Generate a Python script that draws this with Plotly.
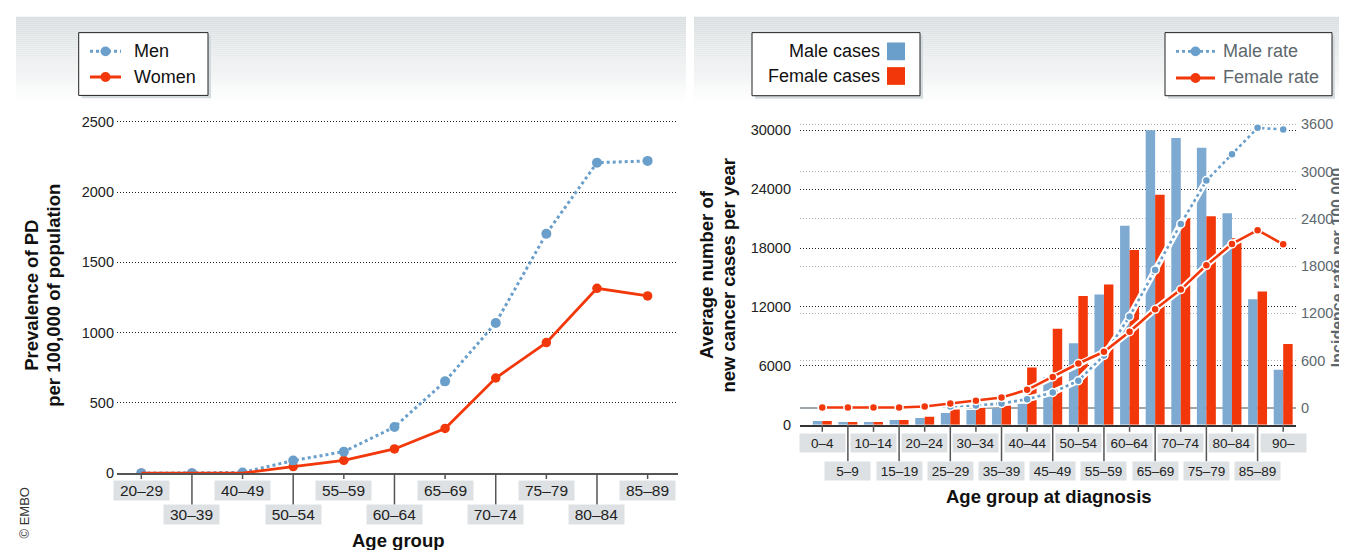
import plotly.graph_objects as go

# ---------------- data ----------------
left_categories = ["20–29", "30–39", "40–49", "50–54", "55–59", "60–64",
                   "65–69", "70–74", "75–79", "80–84", "85–89"]
men_prevalence = [0, 0, 5, 89, 153, 328, 653, 1069, 1704, 2209, 2222]
women_prevalence = [0, 0, 0, 47, 91, 172, 318, 677, 929, 1315, 1261]
left_yticks = [0, 500, 1000, 1500, 2000, 2500]

right_categories = ["0–4", "5–9", "10–14", "15–19", "20–24", "25–29", "30–34",
                    "35–39", "40–44", "45–49", "50–54", "55–59", "60–64",
                    "65–69", "70–74", "75–79", "80–84", "85–89", "90–"]
male_cases = [400, 300, 300, 500, 700, 1200, 1500, 1700, 2140, 4850, 8310,
              13270, 20260, 30000, 29200, 28220, 21550, 12780, 5620]
female_cases = [400, 300, 300, 500, 835, 1600, 1800, 1970, 5830, 9780, 13130,
                14290, 17810, 23440, 21030, 21240, 19000, 13580, 8240]
male_rate = [2, 1, 2, 5, 10, 18, 30, 55, 110, 195, 345, 665, 1160, 1750,
             2335, 2885, 3220, 3555, 3535]
female_rate = [3, 3, 3, 4, 17, 55, 90, 130, 228, 391, 562, 711, 966, 1251,
               1501, 1809, 2081, 2256, 2076]
cases_yticks = [0, 6000, 12000, 18000, 24000, 30000]
rate_yticks = [0, 600, 1200, 1800, 2400, 3000, 3600]

# ---------------- style ----------------
W, H = 1347, 550
FONT = "Liberation Sans, Arial, Helvetica, sans-serif"
BLUE = "#6a9fcb"
BLUE_BAR = "#7eaad2"
RED = "#f2380a"
GRAY_TXT = "#5d686e"
BOX = "#dde1e3"
GRID_DASH = "1px,2px"


def px(x):
    return x / W


def py(y):
    return 1 - y / H


fig = go.Figure()

# ---------- left panel ----------
fig.add_trace(go.Scatter(
    x=left_categories, y=women_prevalence, mode="markers",
    marker=dict(color=RED, size=9.5), xaxis="x", yaxis="y", showlegend=False))
fig.add_trace(go.Scatter(
    x=left_categories, y=men_prevalence, mode="lines+markers",
    line=dict(color=BLUE, width=3, dash="dot"),
    marker=dict(color=BLUE, size=10), xaxis="x", yaxis="y", showlegend=False))
fig.add_trace(go.Scatter(
    x=left_categories, y=women_prevalence, mode="lines",
    line=dict(color=RED, width=2.8), xaxis="x", yaxis="y", showlegend=False))

# ---------- right panel ----------
fig.add_trace(go.Bar(x=right_categories, y=male_cases, marker_color=BLUE_BAR,
                     marker_line_width=0, xaxis="x2", yaxis="y2",
                     showlegend=False))
fig.add_trace(go.Bar(x=right_categories, y=female_cases, marker_color=RED,
                     marker_line_width=0, xaxis="x2", yaxis="y2",
                     showlegend=False))
# white halos + rate lines
fig.add_trace(go.Scatter(x=right_categories, y=male_rate, mode="lines",
                         line=dict(color="white", width=6.5),
                         xaxis="x2", yaxis="y3", showlegend=False,
                         hoverinfo="skip"))
fig.add_trace(go.Scatter(x=right_categories, y=male_rate, mode="lines+markers",
                         line=dict(color=BLUE, width=2.6, dash="dot"),
                         marker=dict(color=BLUE, size=8,
                                     line=dict(color="white", width=1.5)),
                         xaxis="x2", yaxis="y3", showlegend=False))
fig.add_trace(go.Scatter(x=right_categories, y=female_rate, mode="lines",
                         line=dict(color="white", width=6.5),
                         xaxis="x2", yaxis="y3", showlegend=False,
                         hoverinfo="skip"))
fig.add_trace(go.Scatter(x=right_categories, y=female_rate, mode="lines+markers",
                         line=dict(color=RED, width=2.6),
                         marker=dict(color=RED, size=8,
                                     line=dict(color="white", width=1.5)),
                         xaxis="x2", yaxis="y3", showlegend=False))

shapes = []
annotations = []

# ---------- header gradient bands ----------
y_top, y_bot = 9, 95
c0 = (217, 222, 224)
step = 2
for yy in range(y_top, y_bot, step):
    t = (yy - y_top) / (y_bot - y_top)
    col = tuple(int(round(c + (255 - c) * t)) for c in c0)
    color = "rgb(%d,%d,%d)" % col
    for (xa, xb) in [(8, 678), (686, 1347)]:
        shapes.append(dict(type="rect", xref="paper", yref="paper",
                           x0=px(xa), x1=px(xb), y0=py(yy + step), y1=py(yy),
                           fillcolor=color, line=dict(width=0), layer="below"))

# ---------- x tick marks and boxed labels ----------
for i, cat in enumerate(left_categories):
    bottom = 478 if i % 2 == 0 else 504
    shapes.append(dict(type="line", xref="x", yref="paper", x0=i, x1=i,
                       y0=py(472), y1=py(bottom),
                       line=dict(color="#555", width=1.5)))
    yc = 490 if i % 2 == 0 else 513.5
    annotations.append(dict(x=cat, y=py(yc), xref="x", yref="paper",
                            text=cat, showarrow=False, bgcolor=BOX,
                            width=55, height=19, borderpad=0,
                            xanchor="center", yanchor="middle",
                            font=dict(family=FONT, size=15.5, color="#222")))

for i, cat in enumerate(right_categories):
    bottom = 430 if i % 2 == 0 else 460
    shapes.append(dict(type="line", xref="x2", yref="paper", x0=i, x1=i,
                       y0=py(423), y1=py(bottom),
                       line=dict(color="#555", width=1.5)))
    yc = 441 if i % 2 == 0 else 470
    annotations.append(dict(x=cat, y=py(yc), xref="x2", yref="paper",
                            text=cat, showarrow=False, bgcolor=BOX,
                            width=45, height=18, borderpad=0,
                            xanchor="center", yanchor="middle",
                            font=dict(family=FONT, size=13.5, color="#222")))


# ---------- legends (drawn as decoration) ----------
def legend_box(x0, y0, x1, y1):
    shapes.append(dict(type="rect", xref="paper", yref="paper",
                       x0=px(x0 + 3), x1=px(x1 + 3), y0=py(y1 + 3), y1=py(y0 + 3),
                       fillcolor="#d4dbde", line=dict(width=0)))
    shapes.append(dict(type="rect", xref="paper", yref="paper",
                       x0=px(x0), x1=px(x1), y0=py(y1), y1=py(y0),
                       fillcolor="white", line=dict(color="#222", width=1)))


def line_sample(xa, xb, yv, color, dash, width, r):
    shapes.append(dict(type="line", xref="paper", yref="paper",
                       x0=px(xa), x1=px(xb), y0=py(yv), y1=py(yv),
                       line=dict(color=color, width=width, dash=dash)))
    xc = (xa + xb) / 2
    shapes.append(dict(type="circle", xref="paper", yref="paper",
                       x0=px(xc - r), x1=px(xc + r), y0=py(yv + r), y1=py(yv - r),
                       fillcolor=color, line=dict(width=0)))


def legend_text(x, y, text, anchor, color):
    annotations.append(dict(x=px(x), y=py(y), xref="paper", yref="paper",
                            text=text, showarrow=False, xanchor=anchor,
                            yanchor="middle",
                            font=dict(family=FONT, size=18, color=color)))


# left legend
legend_box(70.7, 25, 200, 88.7)
line_sample(82, 113, 44, BLUE, "dot", 3, 5)
line_sample(82, 113, 70, RED, "solid", 3, 5)
legend_text(124, 44, "Men", "left", "#111")
legend_text(124, 70, "Women", "left", "#111")

# right cases legend
legend_box(744, 25, 912, 89)
shapes.append(dict(type="rect", xref="paper", yref="paper",
                   x0=px(879), x1=px(897), y0=py(53), y1=py(35),
                   fillcolor=BLUE, line=dict(width=0)))
shapes.append(dict(type="rect", xref="paper", yref="paper",
                   x0=px(879), x1=px(897), y0=py(78), y1=py(60),
                   fillcolor=RED, line=dict(width=0)))
legend_text(874, 44, "Male cases", "right", "#111")
legend_text(874, 69, "Female cases", "right", "#111")

# right rate legend
legend_box(1157, 25, 1324, 89)
line_sample(1168, 1207, 44, BLUE, "dot", 2.6, 5)
line_sample(1168, 1207, 71, RED, "solid", 3, 5)
legend_text(1213, 44, "Male rate", "left", GRAY_TXT)
legend_text(1213, 70, "Female rate", "left", GRAY_TXT)

# ---------- titles ----------
TFONT = dict(family=FONT, size=18.5, color="#111", weight=700)


def rot_text(x, y, text, color="#111", size=18.5):
    f = dict(TFONT)
    f["color"] = color
    f["size"] = size
    annotations.append(dict(x=px(x), y=py(y), xref="paper", yref="paper",
                            text=text, showarrow=False, textangle=-90,
                            xanchor="center", yanchor="middle", font=f))


rot_text(24, 292, "Prevalence of PD")
rot_text(46, 292, "per 100,000 of population")
rot_text(698, 271, "Average number of")
rot_text(720.5, 271, "new cancer cases per year")
rot_text(1329, 264, "Incidence rate per 100,000", GRAY_TXT, 16)

annotations.append(dict(x=px(390), y=py(540), xref="paper", yref="paper",
                        text="Age group", showarrow=False, xanchor="center",
                        yanchor="middle", font=TFONT))
annotations.append(dict(x=px(1040.5), y=py(495.5), xref="paper", yref="paper",
                        text="Age group at diagnosis", showarrow=False,
                        xanchor="center", yanchor="middle", font=TFONT))
annotations.append(dict(x=px(17), y=py(513), xref="paper", yref="paper",
                        text="© EMBO", showarrow=False, textangle=-90,
                        xanchor="center", yanchor="middle",
                        font=dict(family=FONT, size=13, color="#333")))

tickfont = dict(family=FONT, size=14.5, color="#222")

fig.update_layout(
    width=W, height=H,
    margin=dict(l=0, r=0, t=0, b=0),
    paper_bgcolor="white", plot_bgcolor="rgba(0,0,0,0)",
    barmode="group", bargap=0.26, bargroupgap=0,
    font=dict(family=FONT),
    xaxis=dict(domain=[px(109), px(670)], range=[-0.48, 10.6],
               type="category", categoryorder="array",
               categoryarray=left_categories,
               showgrid=False, showline=True, linecolor="#555", linewidth=1.5,
               ticks="", showticklabels=False, zeroline=False, anchor="y"),
    yaxis=dict(domain=[py(472), py(105)], range=[0, 2573.6], anchor="x",
               tickvals=left_yticks, tickformat="d", showgrid=True,
               gridcolor="#222", griddash=GRID_DASH, gridwidth=1,
               zeroline=False, showline=False,
               ticks="", tickfont=tickfont, ticklabelstandoff=2),
    xaxis2=dict(domain=[px(792), px(1288)], range=[-0.87, 18.5],
                type="category", categoryorder="array",
                categoryarray=right_categories,
                showgrid=False, showline=True, linecolor="#333", linewidth=1.5,
                ticks="", showticklabels=False, zeroline=False, anchor="y2"),
    yaxis2=dict(domain=[py(423), py(110)], range=[0, 31404.7], anchor="x2",
                tickvals=cases_yticks, tickformat="d", showgrid=True,
                gridcolor="#222", griddash=GRID_DASH, gridwidth=1,
                zeroline=False, showline=False,
                ticks="", tickfont=tickfont, ticklabelstandoff=8),
    yaxis3=dict(overlaying="y2", side="right", anchor="x2",
                range=[-216.5, 3700.1], tickvals=rate_yticks, tickformat="d",
                showgrid=True, gridcolor="#aab2b6", griddash=GRID_DASH,
                gridwidth=1,
                zeroline=True, zerolinecolor="#a0a7ab", zerolinewidth=1.5,
                showline=False, ticks="",
                tickfont=dict(family=FONT, size=14.5, color=GRAY_TXT),
                ticklabelstandoff=4),
    shapes=shapes,
    annotations=annotations,
)

fig.write_html("out.html")
